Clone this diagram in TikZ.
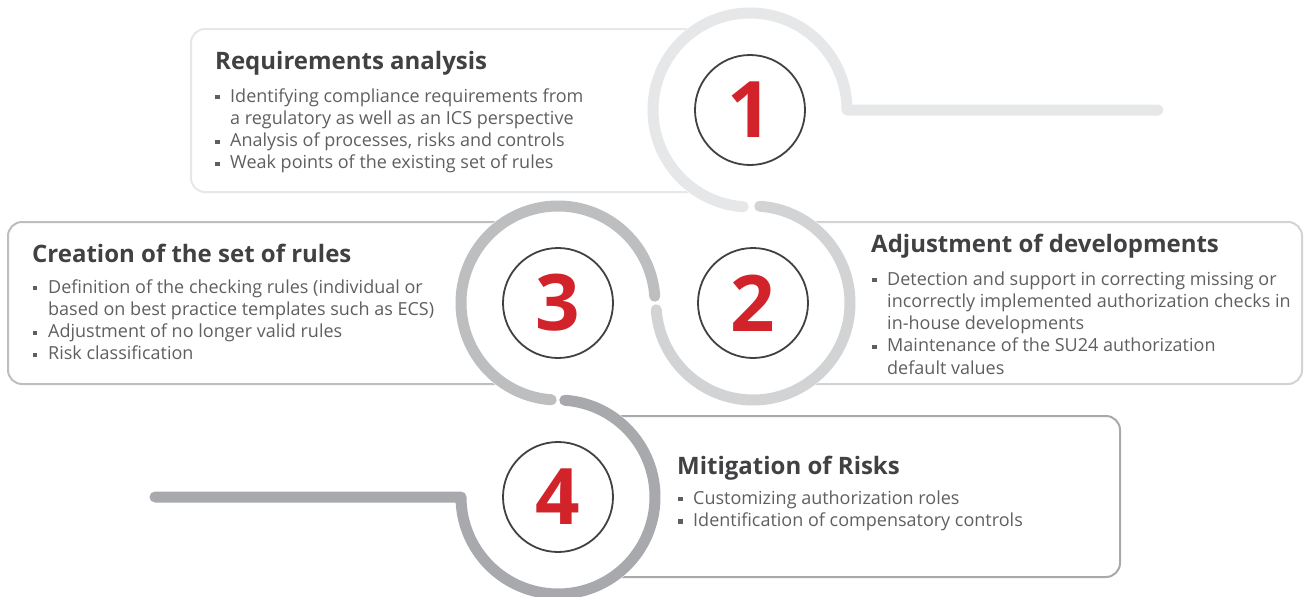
\documentclass[tikz,border=0pt]{standalone}
\usepackage{fontspec}
\setmainfont{Open Sans}
\usetikzlibrary{positioning}
\definecolor{trackA}{HTML}{E6E7E8}
\definecolor{trackB}{HTML}{D1D3D4}
\definecolor{trackC}{HTML}{BCBEC0}
\definecolor{trackD}{HTML}{A7A9AC}
\definecolor{numred}{HTML}{D2232A}
\definecolor{headgray}{HTML}{414042}
\definecolor{textgray}{HTML}{5E5F61}
\newcommand{\itm}{\makebox[15pt][l]{\raisebox{2.7pt}{\rule{4.3pt}{4.3pt}}}}
\newcommand{\cont}{\hspace*{15pt}}

\begin{document}
\begin{tikzpicture}[x=1pt, y=1pt,
  panel/.style={draw=#1, line width=2pt, rounded corners=14pt},
  track/.style={draw=#1, line width=11pt, line cap=round, line join=round},
  numc/.style={circle, draw=headgray, line width=1.8pt, fill=white, minimum size=110pt, inner sep=0pt,
    font=\fontsize{78}{78}\selectfont\bfseries, text=numred},
  head/.style={anchor=base west, inner sep=0pt, font=\fontsize{24}{28}\selectfont\bfseries, text=headgray},
  body/.style={inner sep=0pt, font=\fontsize{18}{22.3}\selectfont, text=textgray}]
\useasboundingbox (0,0) rectangle (1307,-597);
\coordinate (c1) at (750,-110);
\coordinate (c2) at (753,-303);
\coordinate (c3) at (558,-303);
\coordinate (c4) at (558,-497);
% panels behind the rings
\draw[panel=trackA] (191,-29) rectangle (c1 |- 0,-192);
\draw[panel=trackB] (c2 |- 0,-222) rectangle (1302,-384);
\draw[panel=trackC] (8,-222) rectangle (c3 |- 0,-384);
\draw[panel=trackD] (c4 |- 0,-416) rectangle (1120,-577);
\foreach \c in {c1,c2,c3,c4}
  \fill[white] (\c) circle (103);
% rings
\draw[track=trackA] (c1) ++(-94:97) arc[start angle=-94, end angle=-360, radius=97] -- (1158,-110);
\draw[track=trackB] (c2) ++(86:97) arc[start angle=86, end angle=-176, radius=97];
\draw[track=trackC] (c3) ++(4:97) arc[start angle=4, end angle=266, radius=97];
\draw[track=trackD] (c4) ++(86:97) arc[start angle=86, end angle=-180, radius=97] -- (155,-497);
% numbers
\node[numc] (n1) at (c1) {1};
\node[numc] (n2) at (c2) {2};
\node[numc] (n3) at (c3) {3};
\node[numc] (n4) at (c4) {4};
% texts
\node[head] (h1) at (215,-69) {Requirements analysis};
\node[body, below right=33pt and 0pt of h1.base west, anchor=base west] (b1) {\parbox[t]{420pt}{%
  \itm Identifying compliance requirements from\\
  \cont a regulatory as well as an ICS perspective\\
  \itm Analysis of processes, risks and controls\\
  \itm Weak points of the existing set of rules}};
\node[head] (h2) at (871,-252) {Adjustment of developments};
\node[body, below right=33pt and 1pt of h2.base west, anchor=base west] (b2) {\parbox[t]{440pt}{%
  \itm Detection and support in correcting missing or\\
  \cont incorrectly implemented authorization checks in\\
  \cont in-house developments\\
  \itm Maintenance of the SU24 authorization\\
  \cont default values}};
\node[head] (h3) at (32,-262) {Creation of the set of rules};
\node[body, below right=31pt and 1pt of h3.base west, anchor=base west] (b3) {\parbox[t]{440pt}{%
  \itm Definition of the checking rules (individual or\\
  \cont based on best practice templates such as ECS)\\
  \itm Adjustment of no longer valid rules\\
  \itm Risk classification}};
\node[head] (h4) at (677,-474) {Mitigation of Risks};
\node[body, below right=30pt and 1pt of h4.base west, anchor=base west] (b4) {\parbox[t]{420pt}{%
  \itm Customizing authorization roles\\
  \itm Identification of compensatory controls}};
\end{tikzpicture}
\end{document}
